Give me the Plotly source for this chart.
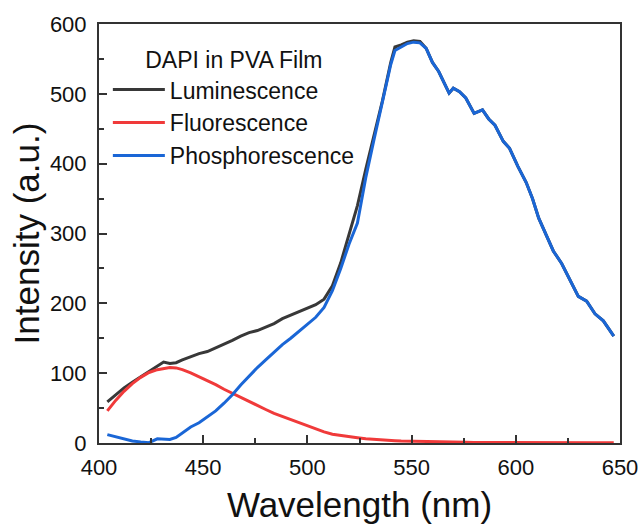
import plotly.graph_objects as go

wavelength = [404, 408, 412, 416, 420, 424, 428, 431, 434, 437, 440, 444, 448, 452, 456, 460,
              464, 468, 472, 476, 480, 484, 488, 492, 496, 500, 504, 508, 512, 516, 520, 524,
              528, 532, 536, 540, 542, 545, 548, 551, 554, 557, 560, 563, 566, 568, 570, 573,
              576, 580, 584, 587, 590, 594, 597, 601, 605, 608, 611, 614, 618, 622, 626, 630,
              634, 638, 642, 646, 647]

luminescence = [59, 69, 79, 87, 95, 103, 110, 116, 114, 115, 119, 124, 128, 131, 136, 141,
                147, 153, 158, 161, 166, 171, 178, 183, 187, 193, 198, 206, 225, 258, 298, 340,
                392, 440, 490, 545, 567, 570, 574, 576, 575, 565, 545, 532, 512, 501, 508, 503,
                494, 472, 477, 464, 455, 432, 422, 396, 373, 350, 322, 302, 275, 257, 234, 210,
                203, 185, 175, 157, 153]

fluorescence = [46, 61, 74, 85, 94, 101, 105, 107, 108, 107.5, 105, 100.5, 95, 89, 83.5, 77,
                71, 65, 59, 53, 48, 42.5, 38, 34.5, 30, 25, 20, 16, 12.5, 10.5, 9, 7.5,
                6, 5, 4.3, 3.7, 3.4, 3, 2.7, 2.4, 2.1, 1.9, 1.7, 1.5, 1.3, 1.2, 1.1, 1.0,
                0.9, 0.8, 0.7, 0.6, 0.6, 0.5, 0.5, 0.5, 0.4, 0.4, 0.4, 0.4, 0.3, 0.3, 0.3, 0.3,
                0.3, 0.3, 0.3, 0.3, 0.3]

phosphorescence = [12, 9, 6, 3, 1.5, 0.5, 6, 6, 5, 8, 15, 23, 29, 37, 46, 57,
                   69, 83, 96, 108, 119, 130, 141, 150, 160, 170, 180, 194, 218, 250, 285, 315,
                   380, 435, 488, 542, 562, 567, 572, 574, 573, 565, 545, 532, 512, 501, 508, 503,
                   494, 472, 477, 464, 455, 432, 422, 396, 373, 350, 322, 302, 275, 257, 234, 210,
                   203, 185, 175, 157, 153]

x_ticks = [400, 450, 500, 550, 600, 650]
y_ticks = [0, 100, 200, 300, 400, 500, 600]

FONT = "Arial, Liberation Sans, sans-serif"

fig = go.Figure()
fig.add_trace(go.Scatter(x=wavelength, y=luminescence, mode="lines", name="Luminescence",
                         line=dict(color="#383838", width=3)))
fig.add_trace(go.Scatter(x=wavelength, y=fluorescence, mode="lines", name="Fluorescence",
                         line=dict(color="#f03a3a", width=3)))
fig.add_trace(go.Scatter(x=wavelength, y=phosphorescence, mode="lines", name="Phosphorescence",
                         line=dict(color="#1a66d6", width=3)))

axis_common = dict(showline=True, linecolor="#333333", linewidth=2, mirror=True,
                   ticks="inside", ticklen=8, tickwidth=2, tickcolor="#333333",
                   showgrid=False, zeroline=False, automargin=False,
                   tickfont=dict(family=FONT, size=22, color="#111111"))

fig.update_layout(
    width=642, height=527,
    margin=dict(l=99, r=22, t=24, b=84),
    paper_bgcolor="white", plot_bgcolor="white",
    font=dict(family=FONT, color="#111111"),
    xaxis=dict(range=[400, 650], tickvals=x_ticks, ticklabelstandoff=4,
               minor=dict(ticks="inside", ticklen=5, tickwidth=2, tickcolor="#333333", dtick=25, tick0=400),
               title=dict(text="Wavelength (nm)", font=dict(family=FONT, size=35), standoff=13),
               **axis_common),
    yaxis=dict(range=[0, 600], tickvals=y_ticks, ticklabelstandoff=6,
               minor=dict(ticks="inside", ticklen=5, tickwidth=2, tickcolor="#333333", dtick=50, tick0=0),
               title=dict(text="Intensity (a.u.)", font=dict(family=FONT, size=35), standoff=0),
               **axis_common),
    showlegend=True,
    legend=dict(x=0.017, y=0.966, xanchor="left", yanchor="top",
                bgcolor="rgba(0,0,0,0)", borderwidth=0, itemwidth=52,
                font=dict(family=FONT, size=23, color="#111111"),
                title=dict(text="DAPI in PVA Film", side="top center",
                           font=dict(family=FONT, size=23, color="#111111")),
                tracegroupgap=0),
)

fig.write_html("out.html")
